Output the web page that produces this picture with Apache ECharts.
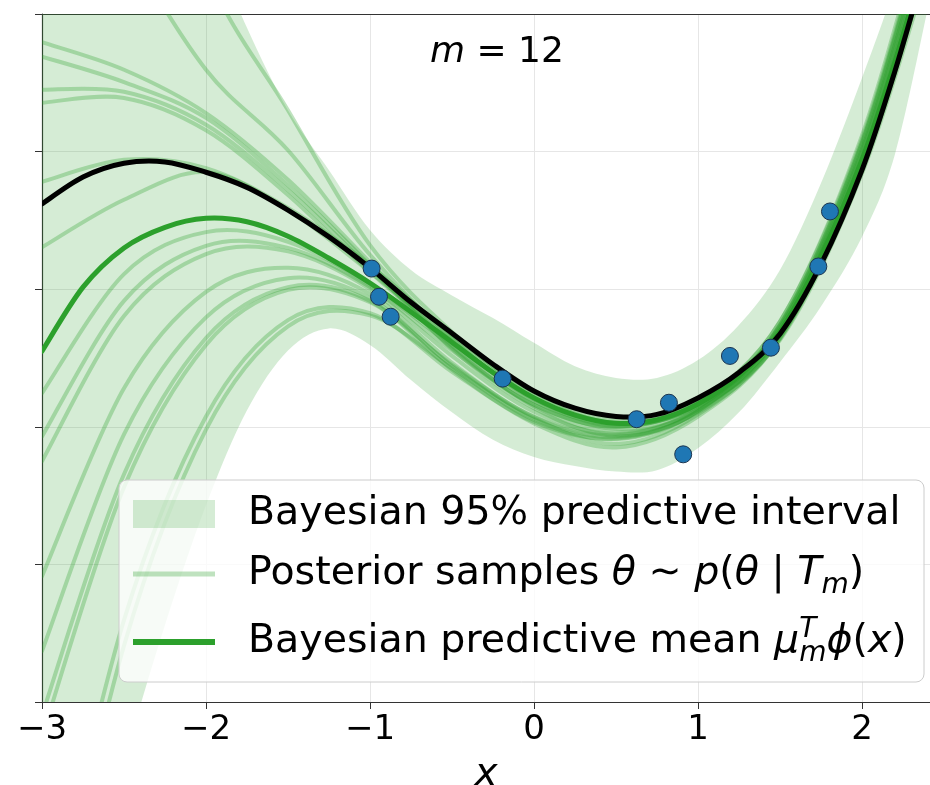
<!DOCTYPE html>
<html>
<head>
<meta charset="UTF-8">
<title>Bayesian predictive, m = 12</title>
<script type="text/javascript" src="https://cdn.jsdelivr.net/npm/echarts@6/dist/echarts.min.js"></script>
<style>
  html, body { margin: 0; padding: 0; background: #fff; }
  #main { width: 930px; height: 785px; }
</style>
</head>
<body>
<div id="main"></div>
<script type="text/javascript">
// x grid for the smooth curves and the interval band
var xsFine = [-3, -2.75, -2.5, -2.25, -2, -1.75, -1.5, -1.25, -1, -0.75, -0.5, -0.25,
              0, 0.25, 0.5, 0.75, 1, 1.25, 1.5, 1.75, 2, 2.2, 2.4];
var trueCurve = [3.24, 3.63, 3.83, 3.85, 3.70, 3.48, 3.15, 2.76, 2.31, 1.81, 1.36, 0.91,
                 0.52, 0.27, 0.15, 0.18, 0.42, 0.79, 1.35, 2.36, 3.73, 5.16, 6.80];
var predMean = [1.10, 2.03, 2.60, 2.90, 3.03, 2.98, 2.77, 2.45, 2.09, 1.67, 1.23, 0.79,
                0.42, 0.17, 0.05, 0.10, 0.33, 0.74, 1.38, 2.48, 3.88, 5.30, 6.93];
var bandUpper = [11.70, 10.94, 10.05, 8.68, 7.20, 5.80, 4.60, 3.73, 2.86, 2.28, 1.91, 1.58,
                 1.22, 0.88, 0.71, 0.71, 0.97, 1.48, 2.28, 3.54, 5.07, 6.42, 8.09];
var bandLower = [-9.50, -6.88, -4.85, -2.88, -1.14, 0.24, 1.11, 1.43, 1.19, 0.68, 0.21, -0.19,
                 -0.44, -0.57, -0.65, -0.63, -0.31, 0.21, 0.94, 1.75, 2.76, 3.95, 6.06];

// posterior sample curves, read at these x
var xsSample = [-3, -2.5, -2, -1.5, -1, -0.5, 0, 0.5, 1, 1.5, 2, 2.4];
var samples = [
  [14.35, 10.28, 6.64, 4.60, 2.64, 1.38, 0.47, 0.05, 0.31, 1.48, 4.13, 7.38],
  [9.40, 7.08, 5.19, 4.02, 2.50, 1.28, 0.37, -0.03, 0.28, 1.43, 4.03, 7.23],
  [5.59, 5.19, 4.56, 3.59, 2.39, 1.18, 0.30, -0.07, 0.25, 1.33, 3.88, 7.03],
  [5.38, 5.01, 4.49, 3.51, 2.35, 1.13, 0.27, -0.13, 0.21, 1.28, 3.73, 6.73],
  [4.90, 4.87, 4.39, 3.44, 2.31, 1.15, 0.32, 0.00, 0.35, 1.53, 4.18, 7.43],
  [4.71, 4.78, 4.31, 3.37, 2.25, 1.25, 0.40, 0.01, 0.33, 1.43, 3.98, 7.13],
  [3.56, 3.88, 3.76, 3.18, 2.35, 1.33, 0.50, 0.10, 0.36, 1.33, 3.78, 6.73],
  [2.61, 3.30, 3.70, 3.15, 2.25, 1.28, 0.42, 0.03, 0.30, 1.26, 3.68, 6.63],
  [0.49, 2.22, 2.83, 2.69, 2.06, 1.18, 0.37, 0.05, 0.35, 1.46, 4.08, 7.28],
  [-0.14, 1.83, 2.63, 2.60, 2.03, 1.11, 0.32, 0.00, 0.38, 1.53, 4.23, 7.53],
  [-0.50, 1.61, 2.51, 2.55, 2.00, 1.03, 0.22, -0.10, 0.25, 1.36, 3.88, 6.93],
  [-2.17, 0.56, 1.96, 2.31, 1.93, 0.93, 0.14, -0.15, 0.23, 1.38, 3.98, 7.13],
  [-3.26, -0.11, 1.59, 2.16, 1.87, 0.88, 0.12, -0.25, 0.18, 1.30, 3.78, 6.83],
  [-4.19, -0.69, 1.29, 2.03, 1.83, 0.83, 0.07, -0.17, 0.23, 1.43, 4.03, 7.23],
  [-4.50, -0.88, 1.19, 1.99, 1.81, 0.90, 0.15, -0.12, 0.28, 1.48, 4.13, 7.33],
  [-7.63, -2.81, 0.15, 1.55, 1.65, 0.80, 0.05, -0.30, 0.15, 1.28, 3.76, 6.78],
  [-8.21, -3.18, -0.04, 1.46, 1.62, 0.85, 0.10, -0.18, 0.22, 1.38, 3.93, 7.03]
];

// observed training points
var obsX = [-0.99, -0.945, -0.874, -0.191, 0.626, 0.823, 0.91, 1.195, 1.445, 1.734, 1.805];
var obsY = [2.30, 1.89, 1.60, 0.70, 0.11, 0.35, -0.40, 1.03, 1.15, 2.33, 3.13];

var xTicks = [-3, -2, -1, 0, 1, 2];

var FONT = 'DejaVu Sans';
var GREEN = '#2ca02c';
var BAND = 'rgba(44,160,44,0.2)';
var SAMPLE = 'rgba(44,160,44,0.3)';
var LEG_BAND = 'Bayesian 95% predictive interval';
var LEG_SAMPLES = 'Posterior samples';
var LEG_MEAN = 'Bayesian predictive mean';

// catmull-rom through pixel points, as bezier segments (no leading M)
function splineSegs(pts) {
  var d = '';
  for (var i = 0; i < pts.length - 1; i++) {
    var p0 = pts[i - 1] || pts[i], p1 = pts[i], p2 = pts[i + 1], p3 = pts[i + 2] || pts[i + 1];
    d += ' C' + (p1[0] + (p2[0] - p0[0]) / 6) + ',' + (p1[1] + (p2[1] - p0[1]) / 6) +
         ' ' + (p2[0] - (p3[0] - p1[0]) / 6) + ',' + (p2[1] - (p3[1] - p1[1]) / 6) +
         ' ' + p2[0] + ',' + p2[1];
  }
  return d;
}
function toPx(api, xs, ys) {
  return xs.map(function (x, i) { return api.coord([x, ys[i]]); });
}
function clipOf(params) {
  var c = params.coordSys;
  return { type: 'rect', shape: { x: c.x, y: c.y, width: c.width, height: c.height } };
}
// one custom series per kind of curve; each data item is the curve's first point
function curveSeries(name, xs, curves, stroke, width, z) {
  return {
    name: name, type: 'custom', coordinateSystem: 'cartesian2d', silent: true, z: z,
    itemStyle: { color: stroke },
    data: curves.map(function (ys) { return [xs[0], ys[0]]; }),
    renderItem: function (params, api) {
      var pts = toPx(api, xs, curves[params.dataIndex]);
      return {
        type: 'path', clipPath: clipOf(params),
        shape: { pathData: 'M' + pts[0][0] + ',' + pts[0][1] + splineSegs(pts) },
        style: { fill: 'none', stroke: stroke, lineWidth: width, lineJoin: 'round', lineCap: 'round' }
      };
    }
  };
}

var myChart = echarts.init(document.getElementById('main'));

var series = [];
series.push({
  name: LEG_BAND, type: 'custom', coordinateSystem: 'cartesian2d', silent: true, z: 1,
  itemStyle: { color: BAND },
  data: [[xsFine[0], bandUpper[0]]],
  renderItem: function (params, api) {
    var up = toPx(api, xsFine, bandUpper);
    var lo = toPx(api, xsFine, bandLower).reverse();
    var d = 'M' + up[0][0] + ',' + up[0][1] + splineSegs(up) +
            ' L' + lo[0][0] + ',' + lo[0][1] + splineSegs(lo) + ' Z';
    return { type: 'path', clipPath: clipOf(params), shape: { pathData: d }, style: { fill: BAND, stroke: 'none' } };
  }
});
series.push(curveSeries(LEG_SAMPLES, xsSample, samples, SAMPLE, 4, 2));
series.push(curveSeries(LEG_MEAN, xsFine, [predMean], GREEN, 5, 3));
series.push(curveSeries('true', xsFine, [trueCurve], '#000', 5, 4));
series.push({
  name: 'data', type: 'scatter', z: 5, symbolSize: 17,
  data: obsX.map(function (x, i) { return [x, obsY[i]]; }),
  itemStyle: { color: '#1f77b4', borderColor: '#1c3550', borderWidth: 1, opacity: 1 }
});

var mathRich = {
  i: { fontStyle: 'italic', fontSize: 39.5, fontFamily: FONT, lineHeight: 52, color: '#000' },
  sub: { fontStyle: 'italic', fontSize: 28, fontFamily: FONT, lineHeight: 28, verticalAlign: 'bottom', color: '#000' },
  sup: { fontStyle: 'italic', fontSize: 28, fontFamily: FONT, lineHeight: 28, verticalAlign: 'top', width: 0, color: '#000' }
};
function legendText() {
  return { fontSize: 39.5, fontFamily: FONT, color: '#000', lineHeight: 52, padding: [0, 0, 0, 28], rich: mathRich };
}

option = {
  animation: false,
  backgroundColor: '#fff',
  title: {
    text: '{i|m} = 12', left: 425, top: 25,
    textStyle: {
      fontSize: 36, fontWeight: 'normal', fontFamily: FONT, color: '#000', lineHeight: 46,
      rich: { i: { fontStyle: 'italic', fontSize: 36, fontFamily: FONT, lineHeight: 46, color: '#000' } }
    }
  },
  grid: { left: 42, right: 0, top: 14, bottom: 83, outerBoundsMode: 'none' },
  xAxis: [{
    type: 'value', min: -3, max: 2.415, interval: 1,
    name: 'x', nameLocation: 'middle', nameGap: 53,
    nameTextStyle: { fontSize: 39, fontStyle: 'italic', fontFamily: FONT, color: '#000' },
    axisLine: { show: true, onZero: false, lineStyle: { color: '#333', width: 1.2 } },
    axisTick: { show: true, inside: false, length: 7, lineStyle: { color: '#333' } },
    axisLabel: {
      fontSize: 34, fontFamily: FONT, color: '#000', margin: 11, showMaxLabel: false,
      formatter: function (v) { return xTicks.indexOf(v) < 0 ? '' : (v < 0 ? '\u2212' + Math.abs(v) : String(v)); }
    },
    splitLine: { show: true, lineStyle: { color: '#e6e6e6', width: 1 } }
  }, {
    type: 'value', position: 'top', min: -3, max: 2.415,
    axisLine: { show: true, onZero: false, lineStyle: { color: '#333', width: 1.2 } },
    axisTick: { show: false }, axisLabel: { show: false }, splitLine: { show: false }
  }],
  yAxis: {
    type: 'value', min: -4, max: 6, interval: 2,
    axisLine: { show: true, onZero: false, lineStyle: { color: '#333', width: 1.2 } },
    axisTick: { show: true, inside: false, length: 7, lineStyle: { color: '#333' } },
    axisLabel: { show: false },
    splitLine: { show: true, lineStyle: { color: '#e6e6e6', width: 1 } }
  },
  graphic: [{
    type: 'rect', z: 3, silent: true,
    shape: { x: 119, y: 480, width: 805, height: 202, r: 8 },
    style: { fill: 'rgba(255,255,255,0.8)', stroke: '#cccccc', lineWidth: 1 }
  }],
  legend: [{
    data: [{ name: LEG_BAND, icon: 'rect', itemStyle: { color: BAND, borderWidth: 0 } }],
    left: 133, top: 488, padding: 0, itemWidth: 82, itemHeight: 28, selectedMode: false,
    textStyle: legendText()
  }, {
    data: [{ name: LEG_SAMPLES, icon: 'rect', itemStyle: { color: SAMPLE, borderWidth: 0 } }],
    left: 133, top: 548, padding: 0, itemWidth: 82, itemHeight: 5, selectedMode: false,
    textStyle: legendText(),
    formatter: function () { return 'Posterior samples {i|\u03b8} \u223c {i|p}({i|\u03b8} | {i|T}{sub|m})'; }
  }, {
    data: [{ name: LEG_MEAN, icon: 'rect', itemStyle: { color: GREEN, borderWidth: 0 } }],
    left: 133, top: 616, padding: 0, itemWidth: 82, itemHeight: 6, selectedMode: false,
    textStyle: legendText(),
    formatter: function () { return 'Bayesian predictive mean {i|\u03bc}{sup|T}{sub|m}{i|\u03d5}({i|x})'; }
  }],
  series: series
};

myChart.setOption(option);
</script>
</body>
</html>
